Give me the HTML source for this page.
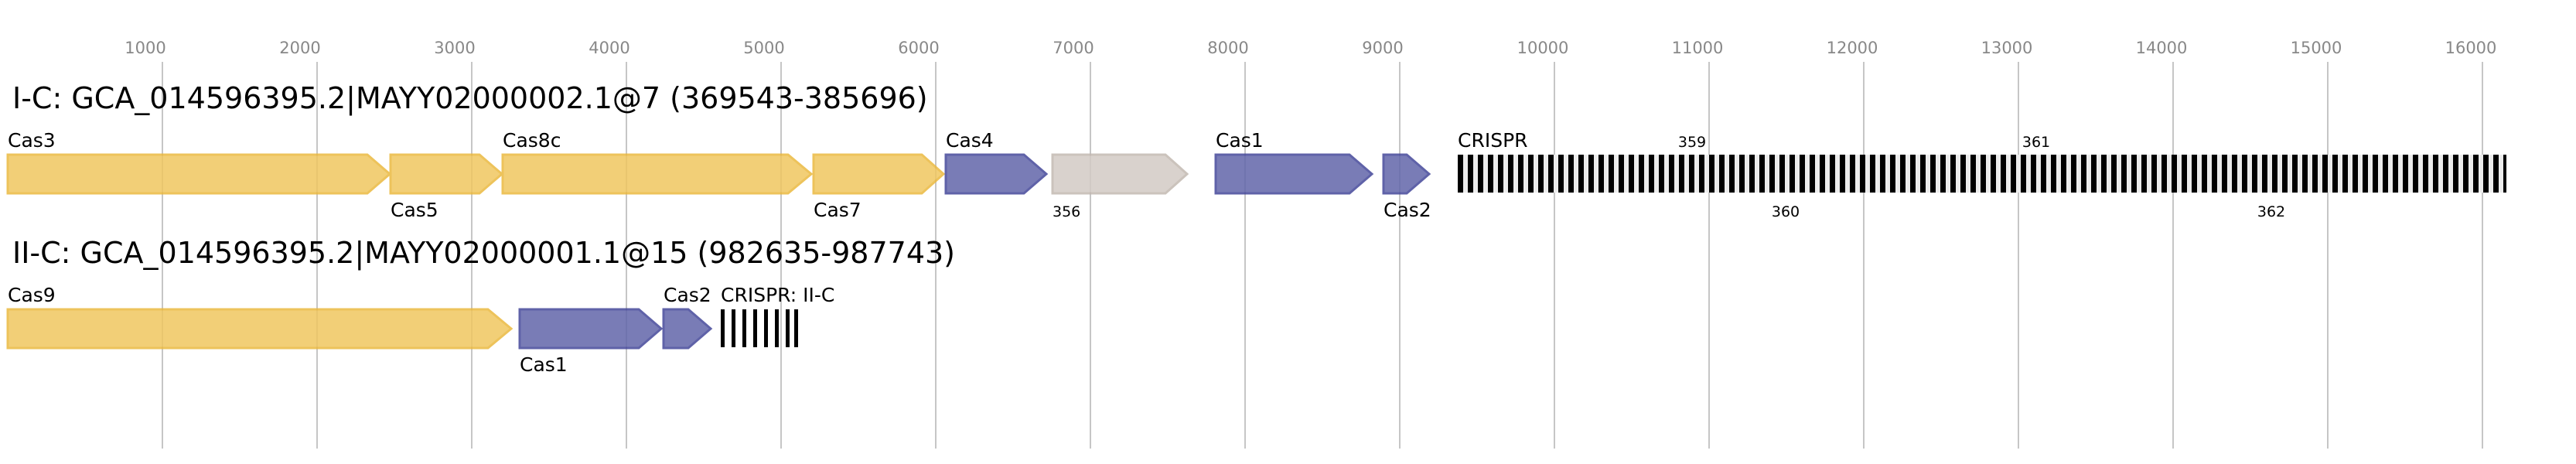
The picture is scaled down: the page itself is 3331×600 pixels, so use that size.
<!DOCTYPE html>
<html><head><meta charset="utf-8"><style>
html,body{margin:0;padding:0;background:#fff;}
svg{display:block;}
text{font-family:"DejaVu Sans","Liberation Sans",sans-serif;}
</style></head><body>
<svg width="3331" height="600" viewBox="0 0 3331 600" xmlns="http://www.w3.org/2000/svg">
<defs>
<pattern id="cr" x="1885" y="0" width="13" height="600" patternUnits="userSpaceOnUse">
<rect x="0" y="0" width="13" height="600" fill="#ececec"/>
<rect x="0" y="0" width="7" height="600" fill="#000"/>
</pattern>
</defs>
<g stroke="#c6c6c6" stroke-width="2">
<line x1="210" y1="80" x2="210" y2="580"/><line x1="410" y1="80" x2="410" y2="580"/>
<line x1="610" y1="80" x2="610" y2="580"/><line x1="810" y1="80" x2="810" y2="580"/>
<line x1="1010" y1="80" x2="1010" y2="580"/><line x1="1210" y1="80" x2="1210" y2="580"/>
<line x1="1410" y1="80" x2="1410" y2="580"/><line x1="1610" y1="80" x2="1610" y2="580"/>
<line x1="1810" y1="80" x2="1810" y2="580"/><line x1="2010" y1="80" x2="2010" y2="580"/>
<line x1="2210" y1="80" x2="2210" y2="580"/><line x1="2410" y1="80" x2="2410" y2="580"/>
<line x1="2610" y1="80" x2="2610" y2="580"/><line x1="2810" y1="80" x2="2810" y2="580"/>
<line x1="3010" y1="80" x2="3010" y2="580"/><line x1="3210" y1="80" x2="3210" y2="580"/>
</g>
<g fill="#888" font-size="21" text-anchor="middle">
<text x="188" y="69">1000</text><text x="388" y="69">2000</text><text x="588" y="69">3000</text>
<text x="788" y="69">4000</text><text x="988" y="69">5000</text><text x="1188" y="69">6000</text>
<text x="1388" y="69">7000</text><text x="1588" y="69">8000</text><text x="1788" y="69">9000</text>
<text x="1995" y="69">10000</text><text x="2195" y="69">11000</text><text x="2395" y="69">12000</text>
<text x="2595" y="69">13000</text><text x="2795" y="69">14000</text><text x="2995" y="69">15000</text>
<text x="3195" y="69">16000</text>
</g>
<text x="16" y="140" font-size="38" fill="#000">I-C: GCA_014596395.2|MAYY02000002.1@7 (369543-385696)</text>
<text x="16" y="340" font-size="38" fill="#000">II-C: GCA_014596395.2|MAYY02000001.1@15 (982635-987743)</text>
<g stroke-width="3" opacity="0.85">
<g fill="#f0c760" stroke="#ebb93f">
<polygon points="10,200 475,200 504,225 475,250 10,250"/>
<polygon points="505,200 620,200 649,225 620,250 505,250"/>
<polygon points="650,200 1019,200 1049,225 1019,250 650,250"/>
<polygon points="1052,200 1192,200 1220,225 1192,250 1052,250"/>
<polygon points="10,400 631,400 661,425 631,450 10,450"/>
</g>
<g fill="#6266aa" stroke="#44479a">
<polygon points="1223,200 1324,200 1353,225 1324,250 1223,250"/>
<polygon points="1572,200 1745,200 1774,225 1745,250 1572,250"/>
<polygon points="1789,200 1819,200 1848,225 1819,250 1789,250"/>
<polygon points="672,400 826,400 855,425 826,450 672,450"/>
<polygon points="858,400 890,400 919,425 890,450 858,450"/>
</g>
<g fill="#d3cbc5" stroke="#c3b9b1">
<polygon points="1361,200 1507,200 1535,225 1507,250 1361,250"/>
</g>
</g>
<rect x="1885" y="200" width="1356" height="49" fill="url(#cr)"/>
<g fill="#000">
<rect x="932" y="400" width="5" height="49"/><rect x="946" y="400" width="5" height="49"/>
<rect x="960" y="400" width="5" height="49"/><rect x="974" y="400" width="5" height="49"/>
<rect x="988" y="400" width="5" height="49"/><rect x="1002" y="400" width="5" height="49"/>
<rect x="1016" y="400" width="5" height="49"/><rect x="1027" y="400" width="5" height="49"/>
</g>
<g font-size="25" fill="#000">
<text x="10" y="190">Cas3</text><text x="505" y="280">Cas5</text>
<text x="650" y="190">Cas8c</text><text x="1052" y="280">Cas7</text>
<text x="1223" y="190">Cas4</text><text x="1572" y="190">Cas1</text>
<text x="1789" y="280">Cas2</text><text x="1885" y="190">CRISPR</text>
<text x="10" y="390">Cas9</text><text x="672" y="480">Cas1</text>
<text x="858" y="390">Cas2</text><text x="932" y="390">CRISPR: II-C</text>
</g>
<g font-size="19" fill="#000">
<text x="1361" y="280">356</text>
<text x="2188" y="190" text-anchor="middle">359</text>
<text x="2309" y="280" text-anchor="middle">360</text>
<text x="2633" y="190" text-anchor="middle">361</text>
<text x="2937" y="280" text-anchor="middle">362</text>
</g>
</svg>
</body></html>
